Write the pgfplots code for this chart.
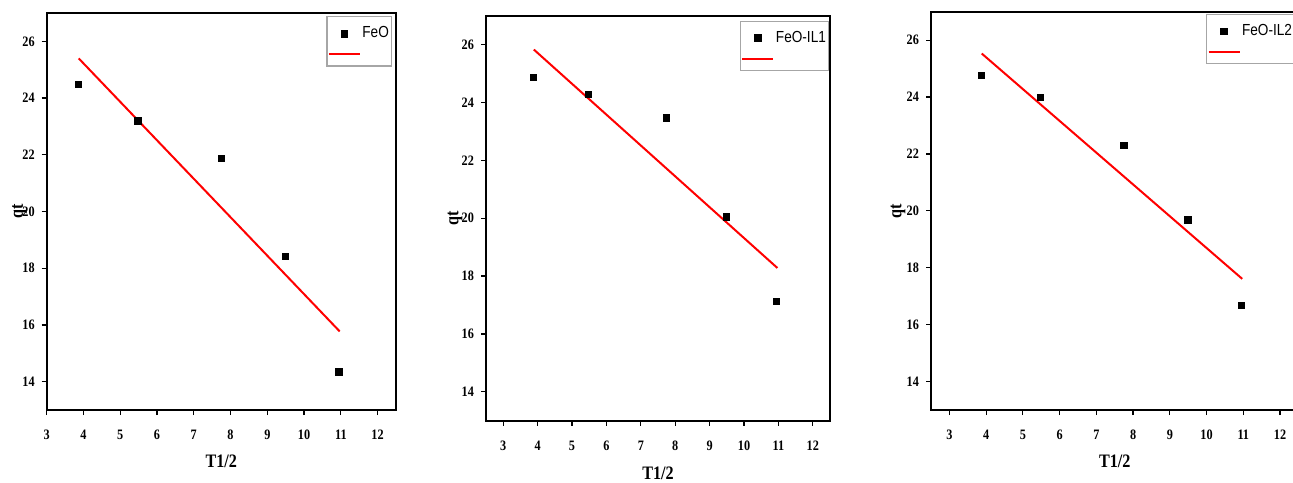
\documentclass[border=0pt]{standalone}
\usepackage{fontspec}
\usepackage{pgfplots}
\pgfplotsset{compat=1.18}
\newfontfamily\numfont[FakeStretch=0.85]{Liberation Serif}
\newfontfamily\legfont[FakeStretch=0.85]{Liberation Sans}

\pgfplotsset{
  kin/.style={
    scale only axis,
    anchor=south west,
    axis line style={line width=1pt},
    ymin=13, ymax=27, ytick={14,16,...,26},
    xmax=12.5, xtick={3,...,12},
    tick align=outside, xtick pos=bottom, ytick pos=left,
    major tick length=2.5pt,
    tick style={black, line width=0.6pt},
    /pgf/number format/assume math mode=true,
    tick label style={font=\numfont\bfseries\fontsize{7.2}{8}\selectfont},
    xticklabel style={yshift=-4pt},
    label style={font=\numfont\bfseries\fontsize{9.5}{11}\selectfont},
    xlabel={T1/2}, ylabel={qt},
    xlabel style={at={(axis description cs:0.5,-0.13)}, anchor=center},
    ylabel style={at={(axis description cs:-0.09,0.5)}, anchor=center},
    legend style={draw=gray!70, line width=0.6pt,
      font=\legfont\fontsize{8}{9}\selectfont,
      inner xsep=0.5pt, inner ysep=3pt, row sep=2pt,
      nodes={inner xsep=0.75pt, inner ysep=2pt}},
    legend cell align=left,
  },
  pts/.style={only marks, mark=square*, mark size=1.6pt, black,
    legend image code/.code={\draw[##1, mark repeat=2, mark phase=2]
      plot coordinates {(0pt,0pt) (7.75pt,0pt) (15.5pt,0pt)};}},
  fit/.style={red, line width=1pt,
    legend image code/.code={\draw[##1] (0pt,0pt) -- (15.5pt,0pt);}},
}

\begin{document}
\begin{tikzpicture}
\useasboundingbox (0,0) rectangle (646.5pt,241pt);
\clip (0,0) rectangle (646.5pt,241pt);

% FeO
\begin{axis}[kin, at={(23.35pt,36pt)}, width=174.65pt, height=198.5pt,
  xmin=3,
  ylabel style={at={(axis description cs:-0.078,0.5)}},
  legend style={at={(0.9885,0.992)}, anchor=north east}]
\addplot[pts] coordinates {
  (3.87,24.48) (5.48,23.2) (7.75,21.87) (9.49,18.42) (10.95,14.35)
};
\addlegendentry{FeO}
\addplot[fit] coordinates {(3.87,25.4) (10.97,15.77)};
\addlegendentry{\mbox{}}
\end{axis}

% FeO-IL1
\begin{axis}[kin, at={(243pt,30.65pt)}, width=172pt, height=202.5pt,
  xmin=2.5,
  legend style={at={(0.997,0.988)}, anchor=north east}]
\addplot[pts] coordinates {
  (3.87,24.87) (5.48,24.27) (7.75,23.47) (9.49,20.04) (10.95,17.13)
};
\addlegendentry{FeO-IL1}
\addplot[fit] coordinates {(3.89,25.83) (10.97,18.28)};
\addlegendentry{\mbox{}}
\end{axis}

% FeO-IL2
\begin{axis}[kin, at={(465.5pt,36pt)}, width=183.7pt, height=199.15pt,
  xmin=2.5,
  legend style={at={(0.7485,0.995)}, anchor=north west}]
\addplot[pts] coordinates {
  (3.87,24.76) (5.48,23.99) (7.75,22.3) (9.49,19.68) (10.95,16.67)
};
\addlegendentry{FeO-IL2}
\addplot[fit] coordinates {(3.88,25.53) (10.97,17.61)};
\addlegendentry{\mbox{}}
\end{axis}
\end{tikzpicture}
\end{document}
